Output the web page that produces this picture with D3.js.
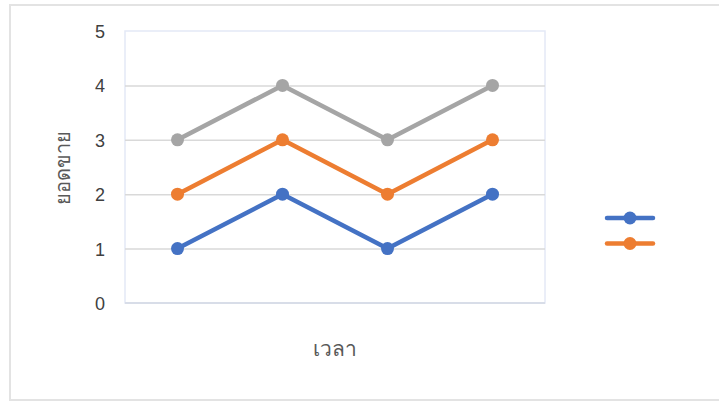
<!DOCTYPE html>
<html>
<head>
<meta charset="utf-8">
<script src="https://cdn.jsdelivr.net/npm/d3@7"></script>
<style>
  body { margin: 0; background: #fff; }
  svg { display: block; font-family: "Open Sans", "Noto Sans", sans-serif; }
</style>
</head>
<body>
<div id="chart"></div>
<script>
// sales over time, three series (legend shows only first two, no names)
var categories = ["1", "2", "3", "4"];
var seriesBlue = [1, 2, 1, 2];
var seriesOrange = [2, 3, 2, 3];
var seriesGray = [3, 4, 3, 4];
var yTicks = [0, 1, 2, 3, 4, 5];
var yTitle = "ยอดขาย";
var xTitle = "เวลา";

var series = [
  {values: seriesBlue, color: "#4472c4", legend: true},
  {values: seriesOrange, color: "#ed7d31", legend: true},
  {values: seriesGray, color: "#a5a5a5", legend: false}
];

var W = 719, H = 401;
var plot = {left: 125, right: 545, top: 31, bottom: 303};

var svg = d3.select("#chart").append("svg")
    .attr("width", W)
    .attr("height", H);

// outer chart frame
svg.append("rect")
    .attr("x", 10).attr("y", 5)
    .attr("width", 740).attr("height", 395)
    .attr("fill", "#fff")
    .attr("stroke", "#e3e3e3")
    .attr("stroke-width", 2);

var x = d3.scalePoint()
    .domain(categories)
    .range([plot.left, plot.right])
    .padding(0.5);

var y = d3.scaleLinear()
    .domain([0, 5])
    .range([plot.bottom, plot.top]);

// plot area border
svg.append("rect")
    .attr("x", plot.left).attr("y", plot.top)
    .attr("width", plot.right - plot.left)
    .attr("height", plot.bottom - plot.top)
    .attr("fill", "none")
    .attr("stroke", "#e4e9f6")
    .attr("stroke-width", 1.5);

// gridlines
var grid = d3.axisLeft(y)
    .tickValues(yTicks.filter(function(d) { return d > 0 && d < 5; }))
    .tickSize(-(plot.right - plot.left))
    .tickFormat("");

svg.append("g")
    .attr("transform", "translate(" + plot.left + ",0)")
    .call(grid)
    .call(function(g) { g.select(".domain").remove(); })
    .selectAll("line")
      .attr("stroke", "#d9d9d9")
      .attr("stroke-width", 1.5);

// bottom axis line
svg.append("line")
    .attr("x1", plot.left).attr("x2", plot.right)
    .attr("y1", y(0)).attr("y2", y(0))
    .attr("stroke", "#d8dde8")
    .attr("stroke-width", 2);

// y tick labels
var yAxis = d3.axisLeft(y)
    .tickValues(yTicks)
    .tickFormat(d3.format("d"))
    .tickSize(0);

svg.append("g")
    .attr("transform", "translate(" + plot.left + ",0)")
    .call(yAxis)
    .call(function(g) { g.select(".domain").remove(); })
    .selectAll("text")
      .attr("font-size", 18)
      .attr("fill", "#404040")
      .attr("text-anchor", "middle")
      .attr("x", -25)
      .attr("dy", "0.36em");

// axis titles
svg.append("text")
    .attr("transform", "translate(63," + ((plot.top + plot.bottom) / 2 + 1) + ") rotate(-90)")
    .attr("text-anchor", "middle")
    .attr("dy", "0.35em")
    .attr("font-size", 20)
    .attr("fill", "#595959")
    .text(yTitle);

svg.append("text")
    .attr("x", (plot.left + plot.right) / 2)
    .attr("y", 349)
    .attr("text-anchor", "middle")
    .attr("dy", "0.35em")
    .attr("font-size", 21)
    .attr("fill", "#595959")
    .text(xTitle);

// series lines + markers
var line = d3.line()
    .x(function(d, i) { return x(categories[i]); })
    .y(function(d) { return y(d); });

series.forEach(function(s) {
  var g = svg.append("g");
  g.append("path")
      .datum(s.values)
      .attr("d", line)
      .attr("fill", "none")
      .attr("stroke", s.color)
      .attr("stroke-width", 4.5)
      .attr("stroke-linejoin", "round")
      .attr("stroke-linecap", "round");
  g.selectAll("circle")
      .data(s.values)
    .enter().append("circle")
      .attr("cx", function(d, i) { return x(categories[i]); })
      .attr("cy", function(d) { return y(d); })
      .attr("r", 6.5)
      .attr("fill", s.color);
});

// legend (no labels in original)
var legendItems = series.filter(function(s) { return s.legend; });
var legend = svg.append("g")
    .attr("transform", "translate(607,218)");

legendItems.forEach(function(s, i) {
  var row = legend.append("g")
      .attr("transform", "translate(0," + (i * 25.5) + ")");
  row.append("line")
      .attr("x1", 0).attr("x2", 46)
      .attr("stroke", s.color)
      .attr("stroke-width", 4.5)
      .attr("stroke-linecap", "round");
  row.append("circle")
      .attr("cx", 23).attr("r", 6.5)
      .attr("fill", s.color);
});
</script>
</body>
</html>
